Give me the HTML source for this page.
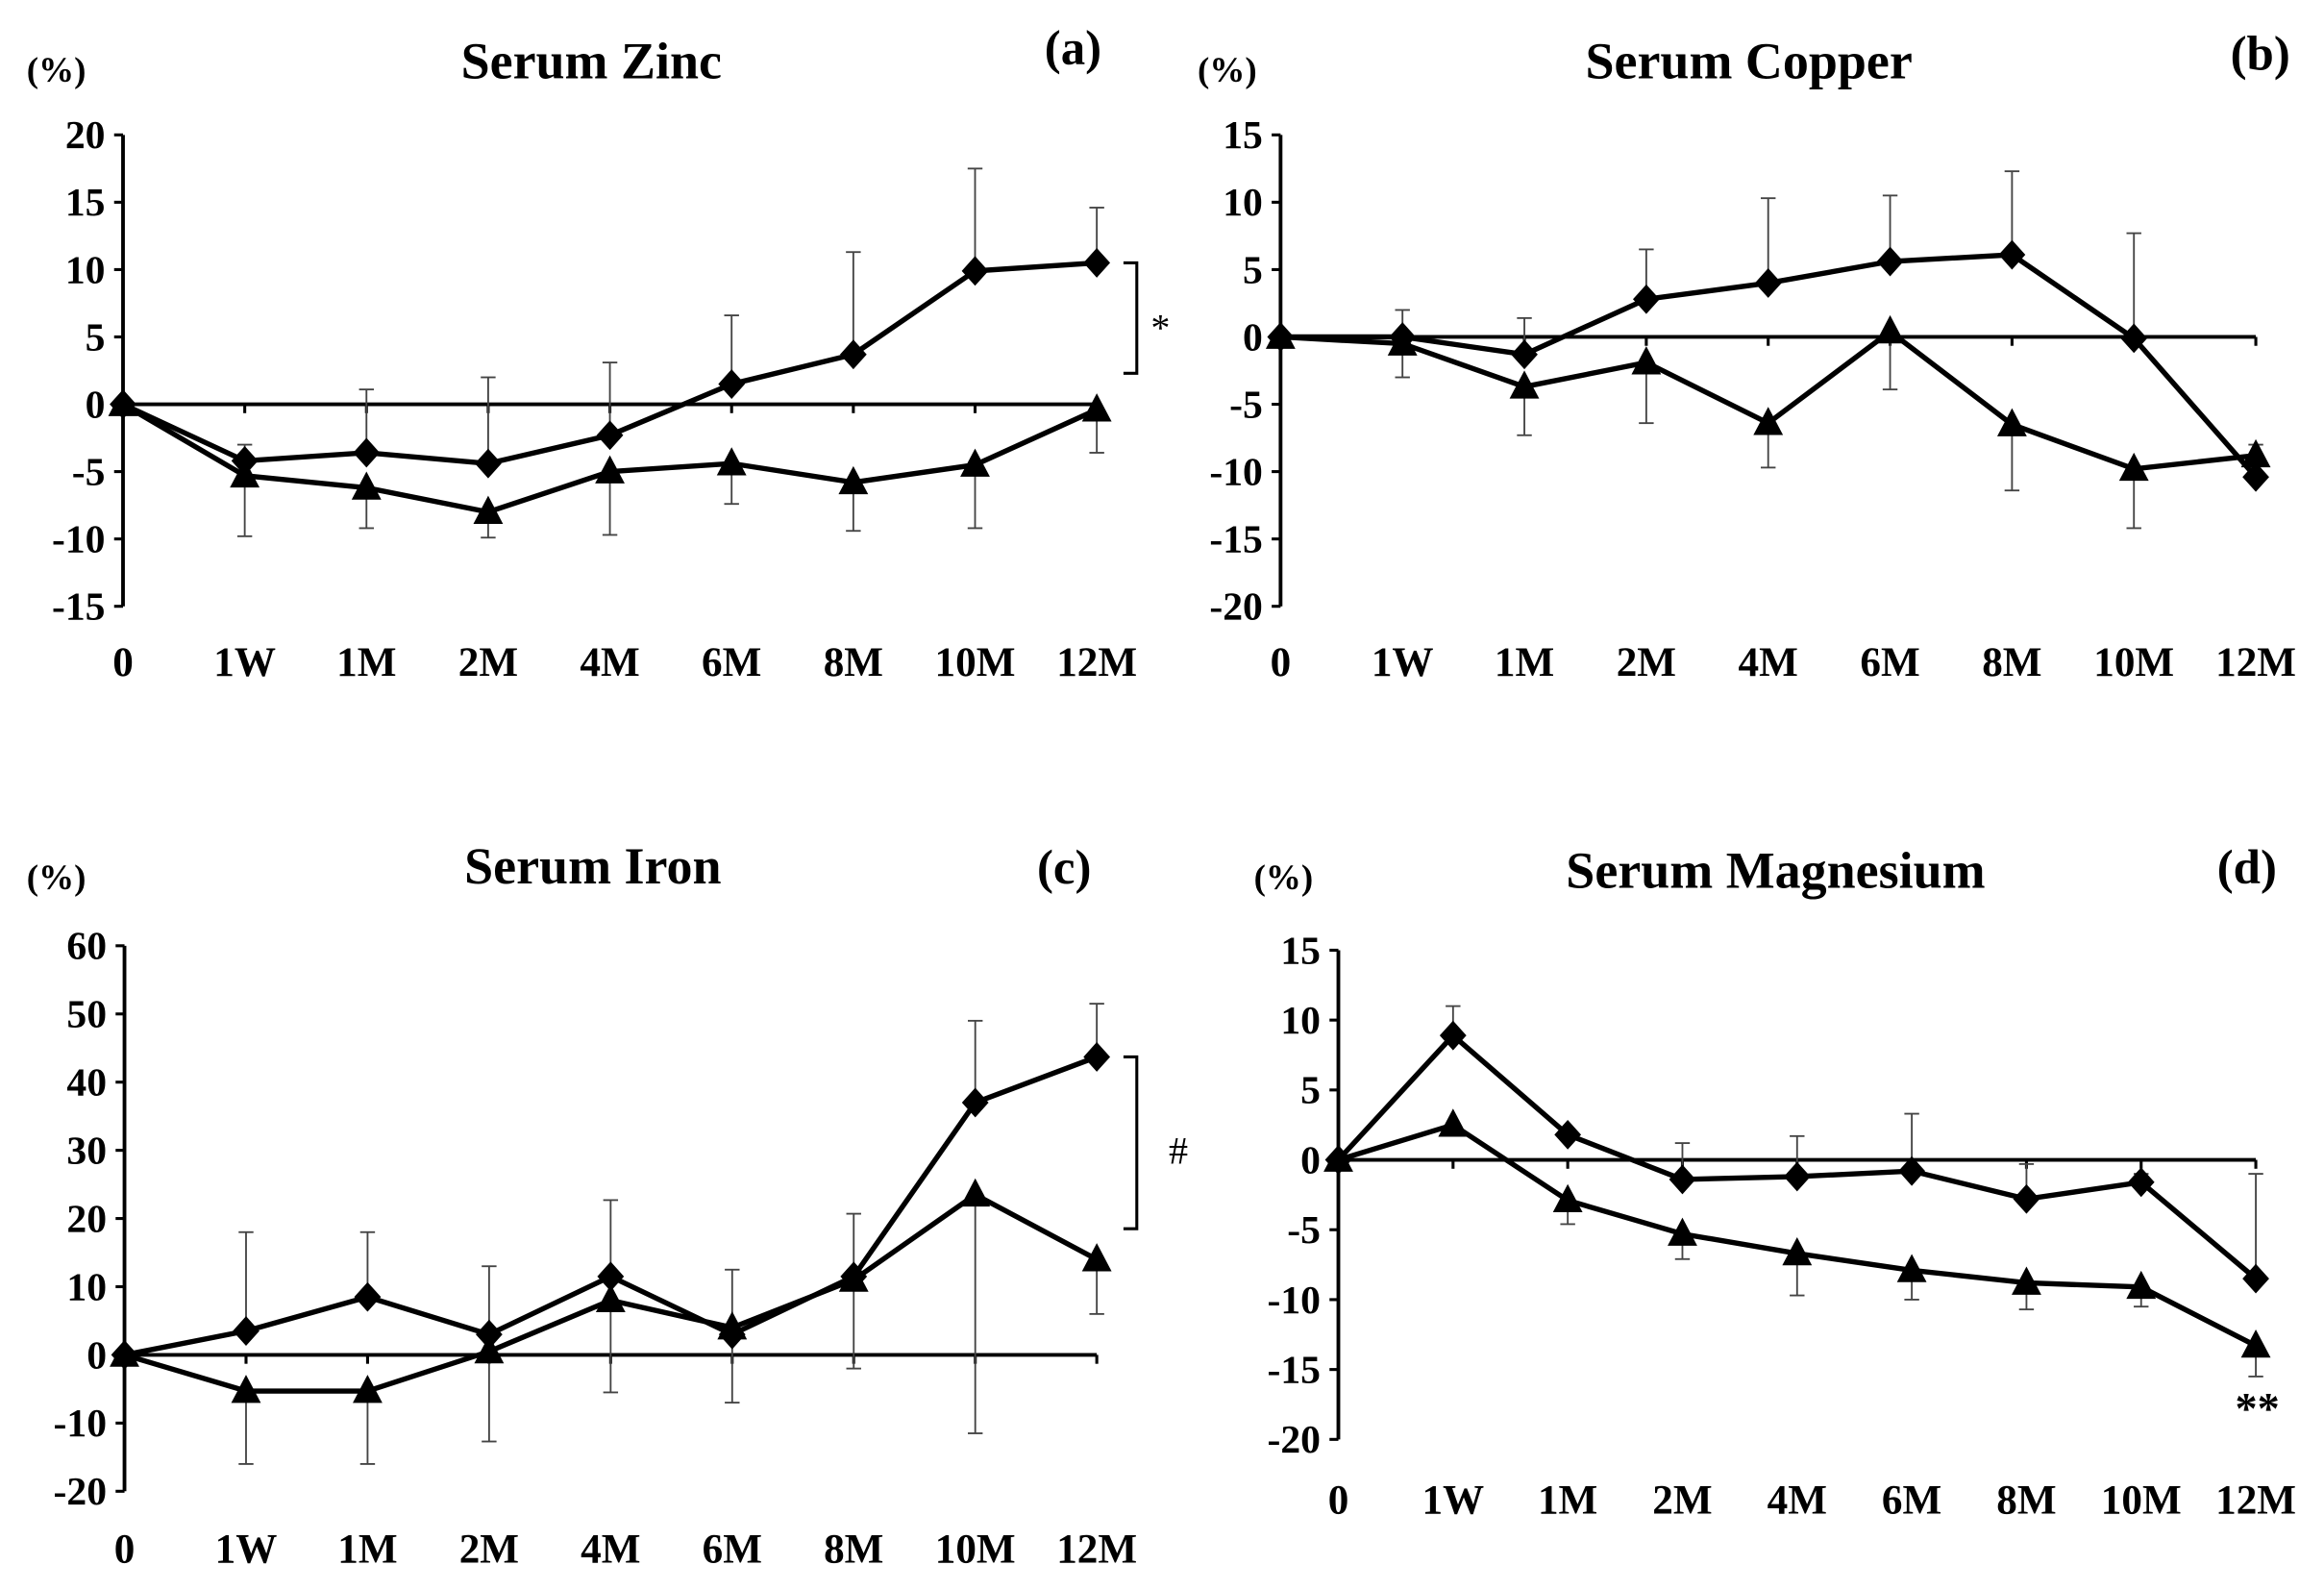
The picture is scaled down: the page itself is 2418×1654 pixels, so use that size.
<!DOCTYPE html>
<html><head><meta charset="utf-8"><style>html,body{margin:0;padding:0;background:#fff}svg{display:block}</style></head>
<body>
<svg id="s" width="2418" height="1654" viewBox="0 0 1568 1072.6" preserveAspectRatio="none" xmlns="http://www.w3.org/2000/svg" font-family="Liberation Serif, serif" font-weight="bold">
<text x="399" y="53" font-size="35" text-anchor="middle">Serum Zinc</text>
<text x="724" y="43" font-size="33" text-anchor="middle">(a)</text>
<text x="38" y="55" font-size="24" text-anchor="middle">(%)</text>
<text x="1180" y="53" font-size="35" text-anchor="middle">Serum Copper</text>
<text x="1525" y="47" font-size="33" text-anchor="middle">(b)</text>
<text x="828" y="55" font-size="24" text-anchor="middle">(%)</text>
<text x="400" y="596" font-size="35" text-anchor="middle">Serum Iron</text>
<text x="718" y="596" font-size="33" text-anchor="middle">(c)</text>
<text x="38" y="600" font-size="24" text-anchor="middle">(%)</text>
<text x="1198" y="599" font-size="35" text-anchor="middle">Serum Magnesium</text>
<text x="1516" y="596" font-size="33" text-anchor="middle">(d)</text>
<text x="866" y="600" font-size="24" text-anchor="middle">(%)</text>
<text x="783" y="230" font-size="26" font-weight="normal" text-anchor="middle">*</text>
<text x="795" y="785" font-size="26" font-weight="normal" text-anchor="middle">#</text>
<text x="1523" y="960" font-size="30" text-anchor="middle">**</text>
</svg>
<script>
var s=document.getElementById('s'),NS='http://www.w3.org/2000/svg';
function el(t,a,txt){var e=document.createElementNS(NS,t);for(var k in a)e.setAttribute(k,a[k]);if(txt!=null)e.textContent=txt;s.appendChild(e);return e;}
var cats=['0','1W','1M','2M','4M','6M','8M','10M','12M'];
function panel(p){
 var X=function(i){return p.x0+(p.x1-p.x0)/8*i;};
 var Y=function(v){return p.yTop+(p.max-v)/(p.max-p.min)*(p.yBot-p.yTop);};
 el('line',{x1:p.x0,y1:p.yTop,x2:p.x0,y2:p.yBot,stroke:'#000','stroke-width':2.5});
 for(var v=p.min;v<=p.max;v+=p.step){var y=Y(v);el('line',{x1:p.x0-6,y1:y,x2:p.x0,y2:y,stroke:'#000','stroke-width':2});
  el('text',{x:p.x0-12,y:y+9,'font-size':27,'text-anchor':'end'},String(v));}
 var z=Y(0);el('line',{x1:p.x0,y1:z,x2:p.x1,y2:z,stroke:'#000','stroke-width':2.5});
 for(var i=0;i<9;i++){el('line',{x1:X(i),y1:z,x2:X(i),y2:z+6,stroke:'#000','stroke-width':2});
  el('text',{x:X(i),y:p.lab,'font-size':28,'text-anchor':'middle'},cats[i]);}
 function err(d,e){for(var i=1;i<9;i++){if(e[i]==null)continue;var a=Y(d[i]),b=Y(e[i]);
  el('line',{x1:X(i),y1:a,x2:X(i),y2:b,stroke:'#444','stroke-width':1.2});
  el('line',{x1:X(i)-5,y1:b,x2:X(i)+5,y2:b,stroke:'#444','stroke-width':1.2});}}
 err(p.d,p.de);err(p.t,p.te);
 function line(d){el('polyline',{points:d.map(function(v,i){return X(i)+','+Y(v)}).join(' '),fill:'none',stroke:'#000','stroke-width':3.5});}
 line(p.d);line(p.t);
 p.d.forEach(function(v,i){var x=X(i),y=Y(v);el('polygon',{points:(x)+','+(y-10)+' '+(x+9)+','+y+' '+x+','+(y+10)+' '+(x-9)+','+y,fill:'#000'});});
 p.t.forEach(function(v,i){var x=X(i),y=Y(v);el('polygon',{points:(x)+','+(y-11)+' '+(x+10)+','+(y+8)+' '+(x-10)+','+(y+8),fill:'#000'});});
 if(p.br){var a=Y(p.br[0]),b=Y(p.br[1]);el('polyline',{points:(p.x1+18)+','+a+' '+(p.x1+27)+','+a+' '+(p.x1+27)+','+b+' '+(p.x1+18)+','+b,fill:'none',stroke:'#000','stroke-width':2});}
}
panel({x0:83,x1:740,yTop:91,yBot:409,min:-15,max:20,step:5,lab:456,
 d:[0,-4.2,-3.6,-4.4,-2.3,1.5,3.7,9.9,10.5],de:[null,-3,1.1,2.0,3.1,6.6,11.3,17.5,14.6],
 t:[0,-5.3,-6.2,-8.0,-5.0,-4.4,-5.8,-4.5,-0.4],te:[null,-9.8,-9.2,-9.9,-9.7,-7.4,-9.4,-9.2,-3.6],br:[10.5,2.3]});
panel({x0:864,x1:1522,yTop:91,yBot:409,min:-20,max:15,step:5,lab:456,
 d:[0,0,-1.3,2.8,4,5.6,6.1,-0.1,-10.4],de:[null,2,1.4,6.5,10.3,10.5,12.3,7.7,null],
 t:[0,-0.5,-3.7,-1.9,-6.4,0.4,-6.5,-9.8,-8.8],te:[null,-3,-7.3,-6.4,-9.7,-3.9,-11.4,-14.2,-8]});
panel({x0:84,x1:740,yTop:638,yBot:1006,min:-20,max:60,step:10,lab:1054,
 d:[0,3.5,8.5,3,11.5,3,11.5,37,43.7],de:[null,18,18,13,22.7,12.5,20.7,49,51.5],
 t:[0,-5.3,-5.3,0.5,8,4,11,23.5,14],te:[null,-16,-16,-12.7,-5.5,-7,-2,-11.5,6],br:[43.7,18.5]});
panel({x0:903,x1:1522,yTop:641,yBot:971,min:-20,max:15,step:5,lab:1021,
 d:[0,8.9,1.8,-1.4,-1.2,-0.8,-2.8,-1.6,-8.5],de:[null,11,null,1.2,1.7,3.3,-0.3,-1,-1],
 t:[0,2.5,-2.9,-5.3,-6.7,-7.9,-8.8,-9.1,-13.3],te:[null,null,-4.6,-7.1,-9.7,-10,-10.7,-10.5,-15.5]});
</script>
</body></html>
